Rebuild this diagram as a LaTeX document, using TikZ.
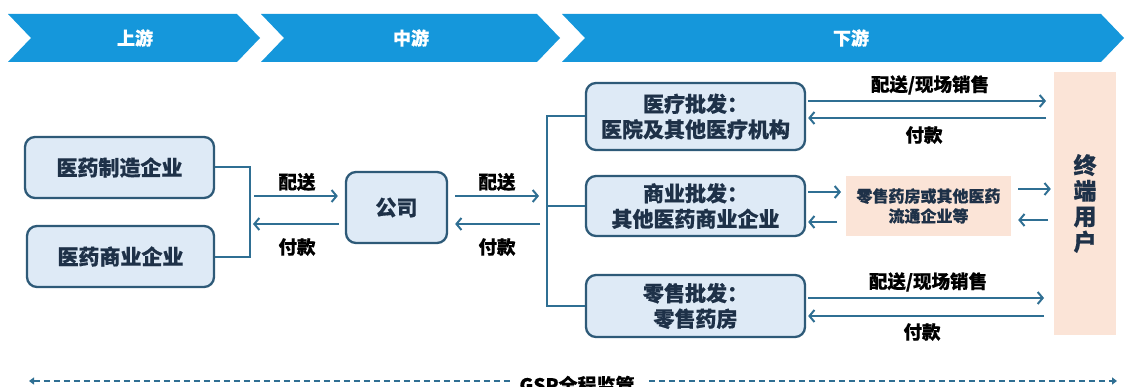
\documentclass[tikz,border=0pt]{standalone}
\usepackage{fontspec}
\setmainfont{Noto Sans CJK SC}[BoldFeatures={FakeBold=0.5}]
\usetikzlibrary{arrows.meta,calc}
\definecolor{chev}{HTML}{1597DB}
\definecolor{boxfill}{HTML}{DEEAF6}
\definecolor{boxline}{HTML}{2E5A78}
\definecolor{arr}{HTML}{2F6F93}
\definecolor{peach}{HTML}{FBE4D7}
\definecolor{txt}{HTML}{1E3148}
\tikzset{
  bluebox/.style={draw=boxline, line width=2.3pt, fill=boxfill, rounded corners=10pt,
    align=center, text=txt, font=\fontsize{21}{25.5}\selectfont\bfseries, inner sep=0pt},
  conn/.style={draw=arr, line width=2pt},
  flow/.style={draw=arr, line width=2pt, -{Straight Barb[length=5pt,width=12pt,line width=2pt]}},
  lbl/.style={font=\fontsize{18.5}{20}\selectfont\bfseries, text=black, inner sep=0pt},
  chevtext/.style={font=\fontsize{18}{20}\selectfont\bfseries, text=white, inner sep=0pt},
  peachbox/.style={fill=peach, draw=none, align=center, inner sep=0pt},
  gspline/.style={draw=arr, line width=2.4pt, dash pattern=on 6pt off 4pt},
}
\begin{document}
\begin{tikzpicture}[x=1pt,y=-1pt]
\useasboundingbox (0,0) rectangle (1126,387);
% chevrons
\fill[chev] (8,14) -- (237,14) -- (260,38) -- (237,62) -- (8,62) -- (31,38) -- cycle;
\fill[chev] (261,14) -- (537,14) -- (560,38) -- (537,62) -- (261,62) -- (284,38) -- cycle;
\fill[chev] (562,14) -- (1101,14) -- (1124,38) -- (1101,62) -- (562,62) -- (585,38) -- cycle;
\node[chevtext] (c1) at (135,38) {上游};
\node[chevtext] (c2) at (411,38) {中游};
\node[chevtext] (c3) at (851,38) {下游};

% upstream boxes
\node[bluebox, minimum width=189pt, minimum height=61pt] (m1) at (119.5,167.5) {医药制造企业};
\node[bluebox, minimum width=187pt, minimum height=61pt] (m2) at (120.5,256.5) {医药商业企业};
% company
\node[bluebox, minimum width=101pt, minimum height=71pt] (gs) at (396.5,207.5) {公司};
% downstream boxes
\node[bluebox, minimum width=219pt, minimum height=67pt] (d1) at (695.5,116.5) {医疗批发：\\医院及其他医疗机构};
\node[bluebox, minimum width=219pt, minimum height=60pt] (d2) at (695.5,206) {商业批发：\\其他医药商业企业};
\node[bluebox, minimum width=219pt, minimum height=62pt] (d3) at (695.5,306) {零售批发：\\零售药房};
% peach boxes
\node[peachbox, minimum width=165pt, minimum height=60pt, text=txt,
  font=\fontsize{16}{20}\selectfont\bfseries] (pr) at (928.5,206) {零售药房或其他医药\\流通企业等};
\node[peachbox, minimum width=62pt, minimum height=263pt, text=txt,
  font=\fontsize{23}{25.5}\selectfont\bfseries] (eu) at (1085,203.5) {终\\端\\用\\户};

% bracket left
\coordinate (bk) at (250,209.5);
\draw[conn] (m1.east) -| (bk) |- (m2.east);
\coordinate (a1s) at (254,196);
\coordinate (a2e) at (253,224);
\draw[flow, shorten >=7pt] (a1s) -- (a1s -| gs.west);
\draw[flow, shorten <=6pt] (a2e -| gs.west) -- (a2e);
\node[lbl] (l1) at (297,182) {配送};
\node[lbl] (l2) at (297,247) {付款};

% middle to downstream
\coordinate (vt) at (547,209.5);
\draw[conn] (d1.west) -| (vt) |- (d3.west);
\draw[conn] (d2.west) -- (d2.west -| vt);
\coordinate (b1e) at (539,196);
\coordinate (b2s) at (540,224);
\draw[flow, shorten <=7pt] (b1e -| gs.east) -- (b1e);
\draw[flow, shorten >=7pt] (b2s) -- (b2s -| gs.east);
\node[lbl] (l3) at (497,182) {配送};
\node[lbl] (l4) at (497,247) {付款};

% d1 <-> end user
\coordinate (r1) at (1046,101);
\coordinate (r2) at (1046,118);
\draw[flow, shorten <=2pt] (r1 -| d1.east) -- (r1);
\draw[flow, shorten >=2pt] (r2) -- (r2 -| d1.east);
\node[lbl] (l5) at (930,85) {配送/现场销售};
\node[lbl] (l6) at (924,135) {付款};

% d2 <-> peach <-> end user
\coordinate (s1) at (841,192);
\coordinate (s2) at (837,222);
\draw[flow, shorten <=2pt] (s1 -| d2.east) -- (s1);
\draw[flow, shorten >=2pt] (s2) -- (s2 -| d2.east);
\coordinate (t1) at (1018,189);
\coordinate (t2) at (1048,220);
\draw[flow, shorten >=3pt] (t1) -- (t1 -| eu.west);
\draw[flow, shorten >=7pt] (t2) -- (t2 -| pr.east);

% d3 <-> end user
\coordinate (u1) at (1044,298);
\coordinate (u2) at (1044,316);
\draw[flow, shorten <=2pt] (u1 -| d3.east) -- (u1);
\draw[flow, shorten >=2pt] (u2) -- (u2 -| d3.east);
\node[lbl] (l7) at (928,282) {配送/现场销售};
\node[lbl] (l8) at (922,332) {付款};

% GSP line
\node[font=\fontsize{19}{20}\selectfont\bfseries, text=black, inner sep=0pt] (gsp) at (577,385) {GSP全程监管};
\coordinate (gl) at (29,381);
\coordinate (gr) at (1117,381);
\draw[gspline, {Triangle[length=5pt,width=7pt]}-] (gl) -- ($(gl -| gsp.west)+(-8,0)$);
\draw[gspline, -{Triangle[length=5pt,width=7pt]}] ($(gr -| gsp.east)+(14,0)$) -- (gr);
\end{tikzpicture}
\end{document}
